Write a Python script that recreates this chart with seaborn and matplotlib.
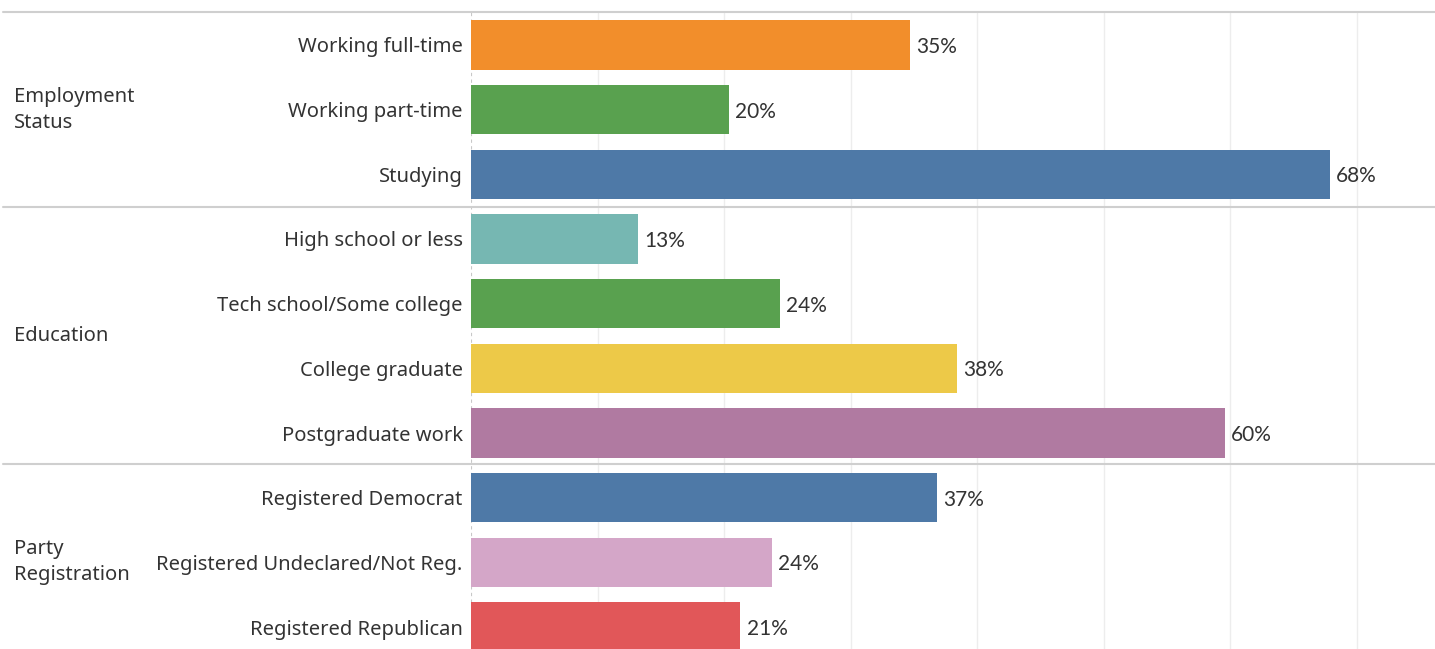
import matplotlib
matplotlib.use("Agg")
import matplotlib.pyplot as plt
import seaborn as sns
import pandas as pd
from matplotlib.lines import Line2D

groups = ["Employment\nStatus"] * 3 + ["Education"] * 4 + ["Party\nRegistration"] * 3
categories = ["Working full-time", "Working part-time", "Studying",
              "High school or less", "Tech school/Some college", "College graduate",
              "Postgraduate work",
              "Registered Democrat", "Registered Undeclared/Not Reg.", "Registered Republican"]
values = [34.7, 20.4, 67.9, 13.2, 24.4, 38.4, 59.6, 36.8, 23.8, 21.3]
colors = ["#F28E2B", "#59A14F", "#4E79A7", "#76B7B2", "#59A14F", "#EDC948",
          "#B07AA1", "#4E79A7", "#D4A6C8", "#E15759"]
grid_ticks = [10, 20, 30, 40, 50, 60, 70]

df = pd.DataFrame({"group": groups, "category": categories, "value": values})

sns.set_theme(style="white")
plt.rcParams["font.family"] = ["Noto Sans", "DejaVu Sans"]

W, H = 1435, 649
fig = plt.figure(figsize=(W / 100, H / 100), dpi=100)
ax_left, ax_top = 471 / W, 1 - 12 / H
ax = fig.add_axes([ax_left, 0, 1 - ax_left, ax_top])

sns.barplot(data=df, y="category", x="value", hue="category",
            palette=dict(zip(categories, colors)), orient="h",
            width=0.76, legend=False, ax=ax, saturation=1, linewidth=0)

ax.set_xlim(0, 76.2)
ax.set_ylim(9.34, -0.51)
ax.set_xlabel("")
ax.set_ylabel("")
ax.set_xticks(grid_ticks)
ax.set_xticklabels([])
ax.tick_params(axis="x", length=0)
ax.tick_params(axis="y", length=0, pad=6, labelsize=14.5, labelcolor="#333333")
ax.grid(axis="x", color="#ededed", linewidth=1)
ax.set_axisbelow(True)
for s in ax.spines.values():
    s.set_visible(False)
ax.axvline(0, color="#c8c8c8", linewidth=0.8, linestyle=(0, (3, 3)), zorder=0)

for cont in ax.containers:
    texts = ax.bar_label(cont, labels=[f"{v:.0f}%" for v in cont.datavalues],
                         padding=4.5, fontsize=15, color="#333333",
                         family=["Lato", "DejaVu Sans"])
    for t in texts:
        t.set_va("center_baseline")

# group separators (figure coords)
for ypix in [12, 207, 464]:
    fig.add_artist(Line2D([3 / W, 1], [1 - ypix / H] * 2, color="#cfcfcf",
                          linewidth=1.5, transform=fig.transFigure))

# group labels
order = list(dict.fromkeys(groups))
for g in order:
    idx = [i for i, gg in enumerate(groups) if gg == g]
    ymid = (idx[0] + idx[-1]) / 2
    _, ydisp = ax.transData.transform((0, ymid))
    yfig = fig.transFigure.inverted().transform((0, ydisp))[1]
    fig.text(14 / W, yfig, g, ha="left", va="center", fontsize=14.5,
             color="#333333", linespacing=1.4)

fig.savefig("out.png", dpi=100)
